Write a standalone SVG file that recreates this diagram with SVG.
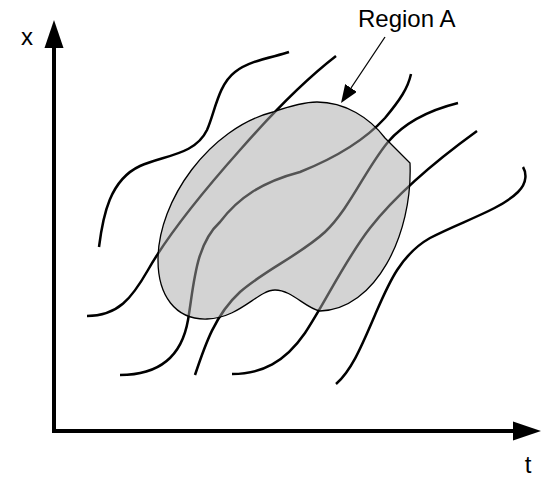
<svg xmlns="http://www.w3.org/2000/svg" width="546" height="477" viewBox="0 0 546 477">
  <style>
    .curve { fill: none; stroke: #000; stroke-width: 2.5; stroke-linecap: butt; }
    .axis { fill: none; stroke: #000; stroke-width: 4; stroke-linejoin: miter; }
    .region { fill: #a8a8a8; fill-opacity: 0.5; stroke: #000; stroke-width: 1.3; }
    .label { font-family: "Liberation Sans", Arial, sans-serif; font-size: 24px; fill: #000; }
    .pointer { fill: none; stroke: #000; stroke-width: 1.3; }
  </style>
  <defs>
    <marker id="axisHead" markerUnits="userSpaceOnUse" markerWidth="28" markerHeight="20" viewBox="0 0 28 20" refX="0" refY="10" orient="auto-start-reverse">
      <path d="M0,0.5 L28,10 L0,19.5 Z" fill="#000"/>
    </marker>
    <marker id="ptrHead" markerUnits="userSpaceOnUse" markerWidth="18" markerHeight="14" viewBox="0 0 18 14" refX="0" refY="7" orient="auto">
      <path d="M0,0 L18,7 L0,14 Z" fill="#000"/>
    </marker>
  </defs>

  <g id="connectors">
    <path id="curve1" class="curve" d="M99,247 C103,215 110,180 140,166 C165,155 195,155 207,130 C215,112 218,85 235,72 C250,60 275,57 289,52"/>
    <path id="curve2" class="curve" d="M87,316 C118,316 132,298 148,270 C165,240 200,195 240,150 C275,110 305,80 336,56"/>
    <path id="curve3" class="curve" d="M120,375 C160,375 182,355 188,320 C194,285 195,245 220,222 C238,198 262,182 300,172 C335,158 365,140 385,118 C400,100 408,88 411,74"/>
    <path id="curve4" class="curve" d="M195,375 C205,345 215,315 240,292 C265,270 300,255 325,232 C350,208 365,170 388,142 C405,122 430,110 458,103"/>
    <path id="curve5" class="curve" d="M232,374 C262,374 285,362 305,333 C325,303 345,260 370,228 C395,196 430,165 477,131"/>
    <path id="curve6" class="curve" d="M336,384 C352,370 362,345 375,315 C388,285 400,255 430,238 C460,222 500,210 518,192 C528,182 526,172 523,167"/>
  </g>

  <g id="regionA">
    <path class="region" d="M317,102 C345,102 370,118 385,138 L410,163 C413,235 375,310 320,311 C305,308 292,290 275,290 C258,290 240,318 207,319 C175,320 158,295 158,260 C158,200 210,128 273,112 C290,106 305,102 317,102 Z"/>
  </g>

  <g id="axes">
    <path class="axis" d="M54,48 L54,431 L513,431" marker-start="url(#axisHead)" marker-end="url(#axisHead)"/>
    <text class="label" x="27" y="45" text-anchor="middle">x</text>
    <text class="label" x="528" y="473" text-anchor="middle">t</text>
  </g>

  <g id="label-regionA">
    <text class="label" x="358" y="27">Region A</text>
    <path class="pointer" d="M385,37 L351,88" marker-end="url(#ptrHead)"/>
  </g>
</svg>
